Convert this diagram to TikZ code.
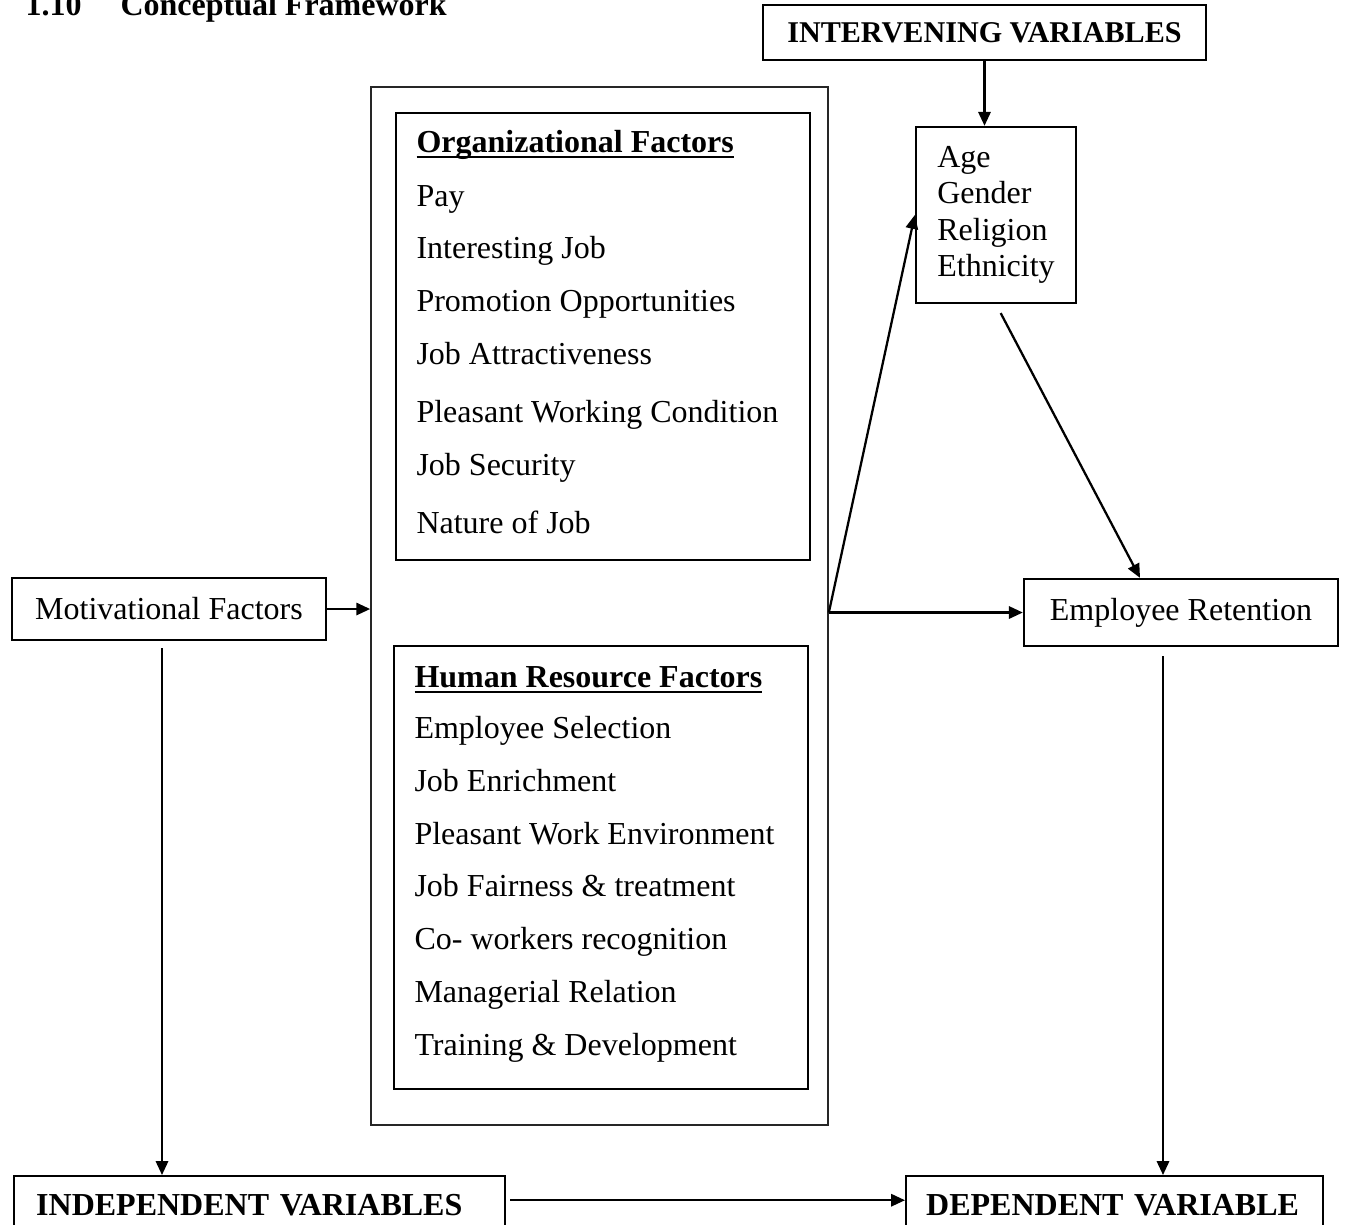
\documentclass[tikz,border=0pt,12pt]{standalone}
\usepackage{fontspec}
\setmainfont{Liberation Serif}
\usetikzlibrary{arrows.meta,calc}
\newsavebox\headbox
\newcommand{\headline}[1]{\sbox\headbox{\bfseries #1}\rlap{\rule[-2.3pt]{\wd\headbox}{0.75pt}}\usebox\headbox}

\begin{document}
\begin{tikzpicture}[
  x=0.375pt, y=-0.375pt,
  framebox/.style={rectangle, draw, line width=0.9pt, inner sep=0pt, align=center},
  itemtext/.style={anchor=base west, inner sep=0pt},
  arr/.style={-{Triangle[length=5.2pt, width=4.6pt]}, line width=0.85pt}
]
  \useasboundingbox (0,0) rectangle (1348,1224);
  \clip (0,0) rectangle (1348,1224);

  % heading
  \node[itemtext, font=\bfseries] (secno) at (25,15) {1.10};
  \node[itemtext, font=\bfseries] (title) at (120,15) {Conceptual Framework};

  % moderating box
  \node[framebox, minimum width=166.1pt, minimum height=20.6pt, font=\fontsize{11.3pt}{13pt}\selectfont\bfseries] (inter) at (984.5,32.5) {INTERVENING VARIABLES};
  \node[framebox, minimum width=60pt, minimum height=66pt, align=left, font=\fontsize{12pt}{13.7pt}\selectfont] (age) at (996,215) {Age\\Gender\\Religion\\Ethnicity};

  % factor groups
  \node[framebox, draw=black!85, line width=0.6pt, minimum width=171.4pt, minimum height=389.25pt] (outer) at (599.5,606) {};
  \node[framebox, minimum width=155.25pt, minimum height=167.6pt] (org) at (603,336.5) {};
  \node[itemtext] (orgtitle) at (416,152) {\headline{Organizational Factors}};
  \node[itemtext] (pay) at (416,206) {Pay};
  \node[itemtext] (interest) at (416,258) {Interesting Job};
  \node[itemtext] (promo) at (416,311) {Promotion Opportunities};
  \node[itemtext] (attract) at (416,364) {Job Attractiveness};
  \node[itemtext] (workcond) at (416,422) {Pleasant Working Condition};
  \node[itemtext] (security) at (416,475) {Job Security};
  \node[itemtext] (nature) at (416,533) {Nature of Job};

  \node[framebox, minimum width=155.25pt, minimum height=166.1pt] (hr) at (601,867.5) {};
  \node[itemtext] (hrtitle) at (414,687) {\headline{Human Resource Factors}};
  \node[itemtext] (select) at (414,738) {Employee Selection};
  \node[itemtext] (enrich) at (414,791) {Job Enrichment};
  \node[itemtext] (workenv) at (414,844) {Pleasant Work Environment};
  \node[itemtext] (fair) at (414,896) {Job Fairness \& treatment};
  \node[itemtext] (cowork) at (414,949) {Co- workers recognition};
  \node[itemtext] (manager) at (414,1002) {Managerial Relation};
  \node[itemtext] (train) at (414,1055) {Training \& Development};

  \node[framebox, minimum width=117.75pt, minimum height=23.25pt] (mf) at (169,609) {Motivational Factors};
  \node[framebox, minimum width=117.75pt, minimum height=25.1pt] (er) at (1181,612.5) {Employee Retention};

  % variable types
  \node[framebox, anchor=north west, inner xsep=8.25pt, text width=167.6pt, align=left, minimum height=21.75pt, font=\bfseries] (ivar) at (13,1175) {INDEPENDENT VARIABLES};
  \node[framebox, anchor=north west, inner xsep=7.5pt, text width=141.4pt, align=left, minimum height=21.75pt, font=\bfseries] (dvar) at (905,1175) {DEPENDENT VARIABLE};

  \draw[arr] (inter.south) -- (inter.south |- age.north);
  \draw[arr] (mf.east) -- (mf.east -| outer.west);
  \draw[arr] (outer.east |- er.west) -- (er.west);
  \draw[arr] (outer.east |- er.west) -- (age.west);
  \draw[arr, shorten <=3.75pt] (age.south) -- ($(er.north)+(-41,0)$);
  \coordinate (mfdrop) at ($(mf.south)+(-7,7)$);
  \draw[arr] (mfdrop) -- (mfdrop |- ivar.north);
  \coordinate (erdrop) at ($(er.south)+(-18,9)$);
  \draw[arr] (erdrop) -- (erdrop |- dvar.north);
  \coordinate (link) at ($(ivar.east)+(4,-5)$);
  \draw[arr] (link) -- (link -| dvar.west);
\end{tikzpicture}
\end{document}
